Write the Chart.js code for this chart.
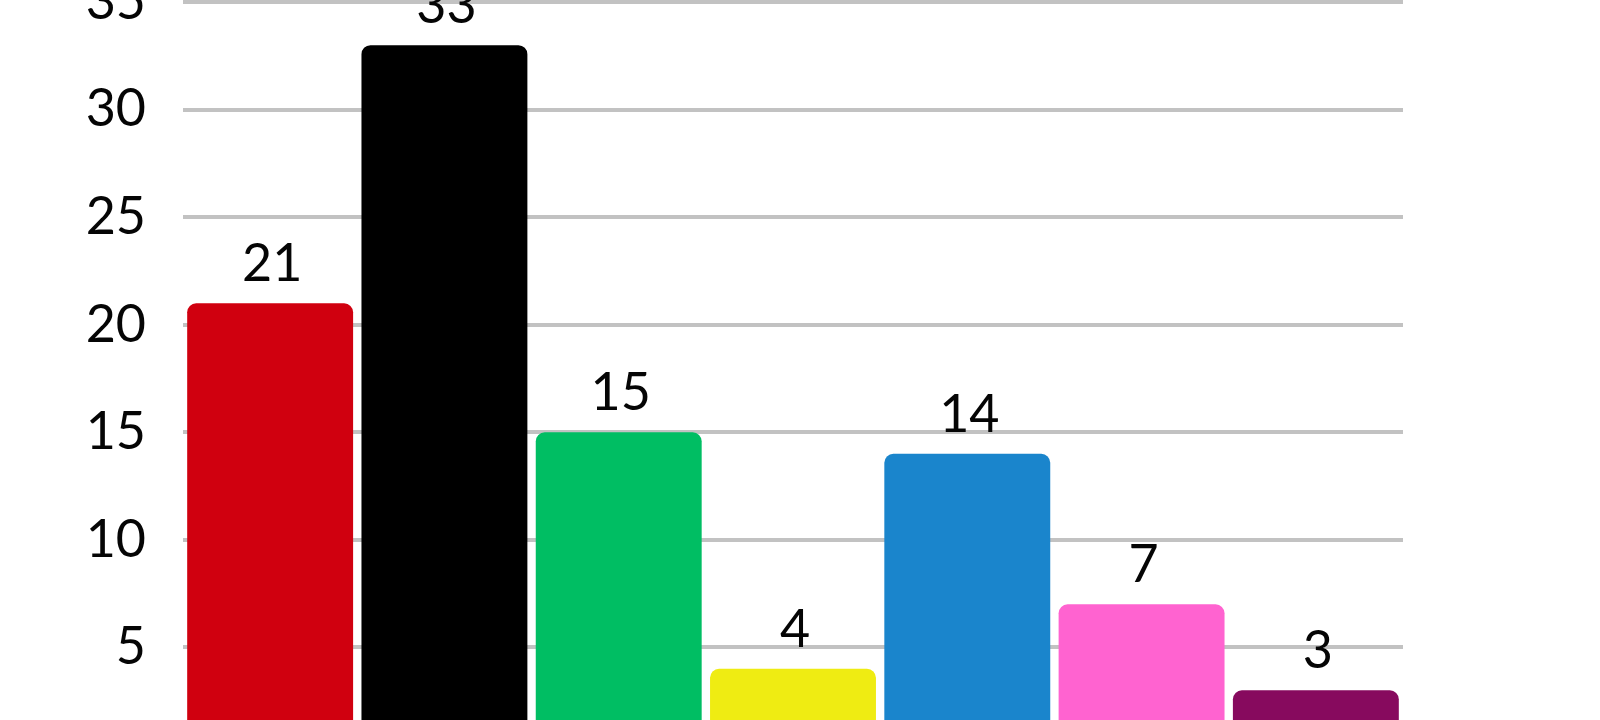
<!DOCTYPE html>
<html>
<head>
<meta charset="utf-8">
<title>Umfrage</title>
<script src="https://cdn.jsdelivr.net/npm/chart.js@4.4.0/dist/chart.umd.min.js"></script>
<style>
    html, body { margin: 0; padding: 0; background: #fff; overflow: hidden; width: 1600px; height: 720px; }
    #wrap { position: absolute; left: 0; top: 0; }
</style>
</head>
<body>
<div id="wrap"><canvas id="chart" width="1600" height="800"></canvas></div>
<script>
// Data
const parties = ['SPD', 'CDU/CSU', 'Grüne', 'FDP', 'AfD', 'Linke', 'BSW'];
const shares = [21, 33, 15, 4, 14, 7, 3];
const barColors = ['#D0000F', '#000000', '#00BE63', '#EFEC12', '#1A85CC', '#FF63D0', '#870A5E'];
const yRange = [0, 35];
const yStep = 5;

const FONT = 'Lato';
const WEIGHT = 400;
const SIZE = 52;
const TEXT = '#050505';

// value labels above each bar
const valueLabels = {
    id: 'valueLabels',
    afterDatasetsDraw(chart) {
        const ctx = chart.ctx;
        const meta = chart.getDatasetMeta(0);
        ctx.save();
        ctx.font = WEIGHT + ' ' + SIZE + 'px ' + FONT;
        ctx.fillStyle = TEXT;
        ctx.textAlign = 'center';
        ctx.textBaseline = 'alphabetic';
        meta.data.forEach((bar, i) => {
            ctx.fillText(String(shares[i]), bar.x + 2, bar.y - 22);
        });
        ctx.restore();
    }
};

const chart = new Chart(document.getElementById('chart'), {
    type: 'bar',
    data: {
        labels: parties,
        datasets: [{
            data: shares,
            backgroundColor: barColors,
            borderRadius: 9,
            borderSkipped: 'start',
            barPercentage: 0.952,
            categoryPercentage: 1
        }]
    },
    options: {
        responsive: false,
        maintainAspectRatio: false,
        devicePixelRatio: 1,
        animation: false,
        layout: { padding: { left: 0, right: 197, top: 0, bottom: 0 } },
        plugins: {
            legend: { display: false },
            tooltip: { enabled: false }
        },
        scales: {
            x: {
                display: false,
                grid: { display: false }
            },
            y: {
                min: yRange[0],
                max: yRange[1],
                ticks: {
                    stepSize: yStep,
                    padding: 37,
                    color: TEXT,
                    font: { family: FONT, size: SIZE, weight: WEIGHT }
                },
                grid: { color: '#C2C2C2', lineWidth: 4, drawTicks: false },
                border: { display: false },
                afterFit(scale) { scale.width = 183; }
            }
        }
    },
    plugins: [valueLabels]
});

// the picture is a crop: 35 sits at the top edge, 0 falls below the bottom edge
const topY = 2.5, zeroY = 755;
const area = chart.chartArea;
const newH = Math.round(800 + (zeroY - topY) - (area.bottom - area.top));
chart.resize(1600, newH);
document.getElementById('wrap').style.top = (topY - chart.chartArea.top) + 'px';
</script>
</body>
</html>
